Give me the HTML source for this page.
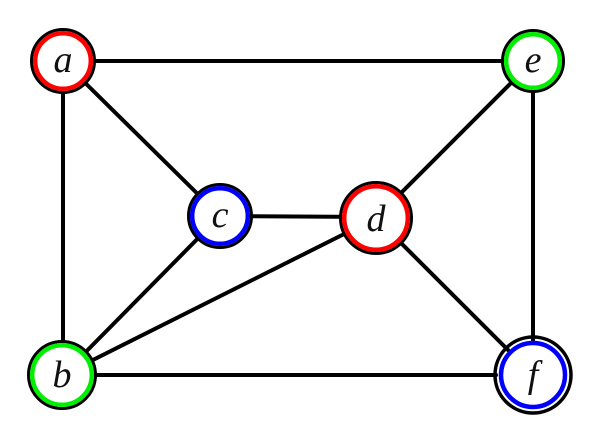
<!DOCTYPE html>
<html><head><style>html,body{margin:0;padding:0;background:#fff}</style></head>
<body>
<svg width="600" height="440" viewBox="0 0 600 440" xmlns="http://www.w3.org/2000/svg">
<g stroke="#000" stroke-width="4" stroke-linecap="round">
<line x1="63" y1="61" x2="533" y2="61"/>
<line x1="63" y1="61" x2="63" y2="375"/>
<line x1="63" y1="61" x2="220" y2="216"/>
<line x1="533" y1="61" x2="376" y2="218"/>
<line x1="533" y1="61" x2="533" y2="375"/>
<line x1="220" y1="216" x2="376" y2="217"/>
<line x1="220" y1="216" x2="63" y2="375"/>
<line x1="376" y1="218" x2="63" y2="375"/>
<line x1="376" y1="218" x2="510" y2="352"/>
<line x1="63" y1="375" x2="496" y2="375"/>
</g>
<g stroke-width="4.5">
<circle cx="63" cy="61" r="31.5" fill="#fff" stroke="#000" stroke-width="3"/>
<circle cx="63" cy="61" r="27.8" fill="#fff" stroke="#f00"/>
<circle cx="533" cy="61" r="30.5" fill="#fff" stroke="#000" stroke-width="3"/>
<circle cx="533" cy="61" r="26.8" fill="#fff" stroke="#0e0"/>
<circle cx="220" cy="216" r="31.5" fill="#fff" stroke="#000" stroke-width="3"/>
<circle cx="220" cy="216" r="27.8" fill="#fff" stroke="#00f"/>
<circle cx="376" cy="218" r="35.5" fill="#fff" stroke="#000" stroke-width="3"/>
<circle cx="376" cy="218" r="31.8" fill="#fff" stroke="#f00"/>
<circle cx="62" cy="375" r="33.5" fill="#fff" stroke="#000" stroke-width="3"/>
<circle cx="62" cy="375" r="29.8" fill="#fff" stroke="#0e0"/>
<circle cx="533" cy="375" r="38" fill="none" stroke="#000" stroke-width="3.5"/>
<circle cx="533" cy="375" r="32" fill="#fff" stroke="#00f"/>
</g>
<g font-family="Liberation Serif, serif" font-style="italic" font-size="38" text-anchor="middle" fill="#111">
<text x="63" y="72">a</text>
<text x="533" y="72">e</text>
<text x="220" y="227">c</text>
<text x="376" y="231">d</text>
<text x="62" y="387">b</text>
<text x="533" y="387">f</text>
</g>
</svg>
</body></html>
